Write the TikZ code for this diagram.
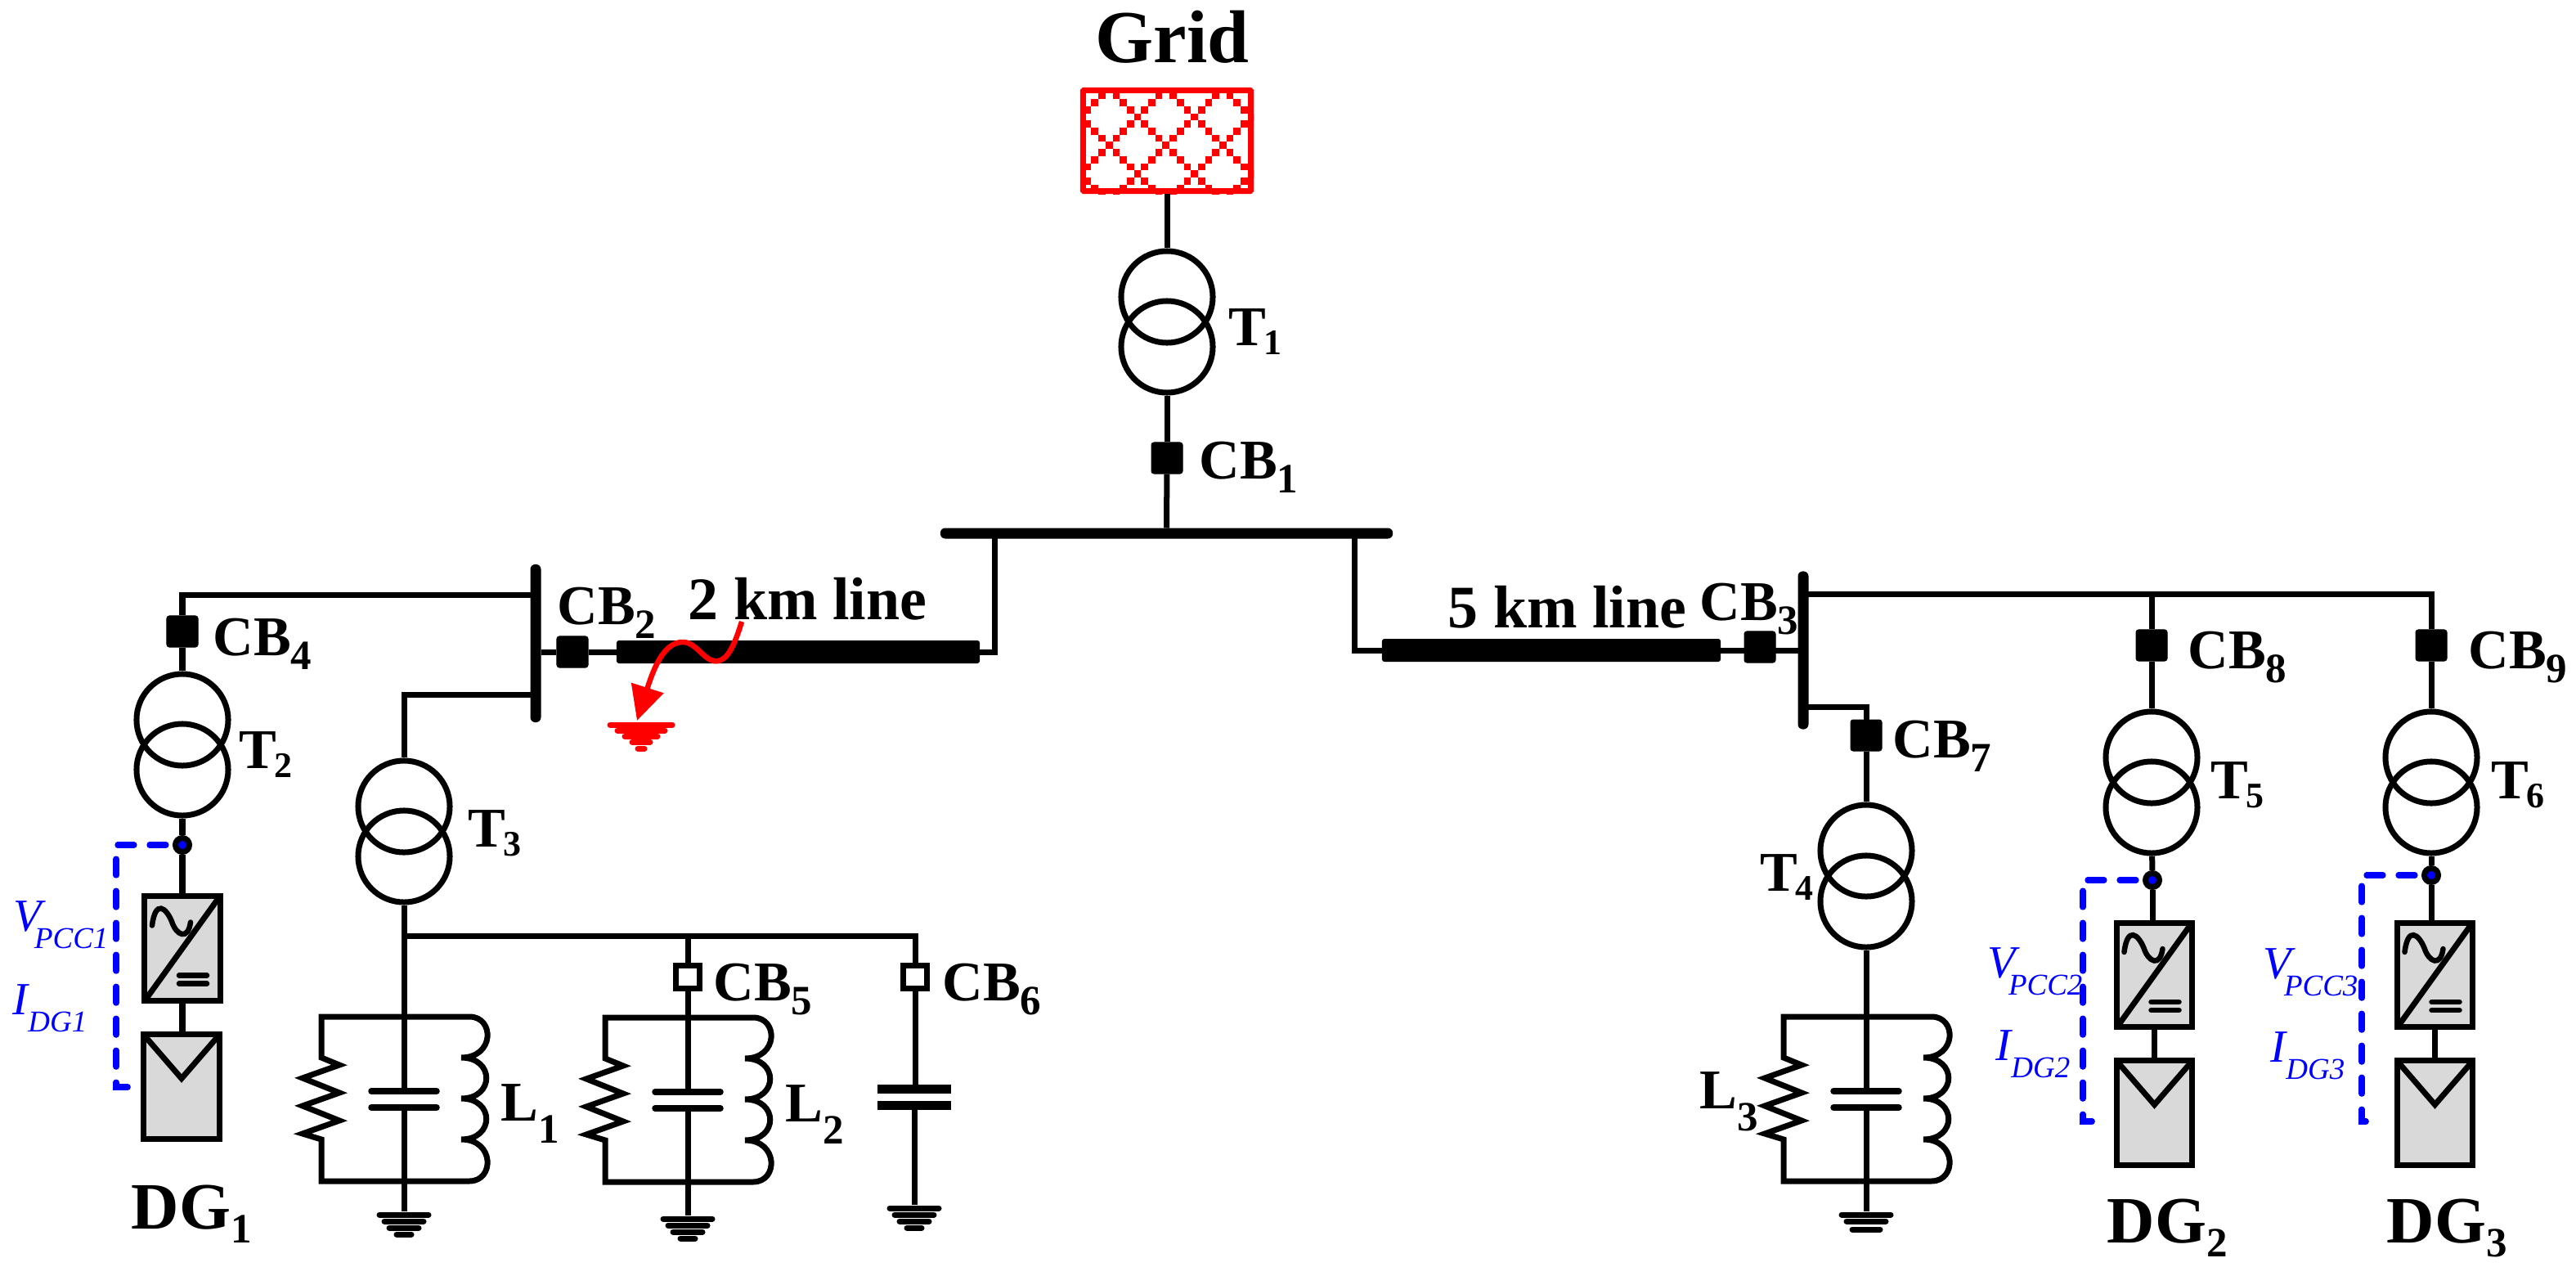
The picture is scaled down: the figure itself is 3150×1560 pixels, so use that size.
\documentclass[tikz,border=0pt]{standalone}
\usepackage{fontspec}
\setmainfont{Liberation Serif}
\usetikzlibrary{arrows.meta, positioning}
\definecolor{gridred}{rgb}{1.0, 0.0, 0.0}
\definecolor{sensblue}{rgb}{0.0, 0.0, 1.0}
\definecolor{dggray}{rgb}{0.85, 0.85, 0.85}
\newcommand{\sublab}[3][0.17cm]{#2\raisebox{-#1}{\fontsize{14.5}{16}\selectfont #3}}
\newcommand{\tlab}[1]{T\kern-0.03cm\raisebox{-0.11cm}{\fontsize{12.5}{15}\selectfont #1}}
\newcommand{\senslab}[3][0cm]{#2\kern#1\raisebox{-0.21cm}{\fontsize{10.5}{12}\selectfont #3}}
\tikzset{wire/.style={color=black, line width=0.07cm}}
\tikzset{plate/.style={color=black, line width=0.075cm, line cap=round}}
\tikzset{earthbar/.style={color=black, line width=0.07cm, line cap=round}}
\tikzset{sense/.style={color=sensblue, line width=0.072cm, line cap=round, dash pattern=on 0.2cm off 0.19cm, shorten <=0.08cm}}
\tikzset{fault/.style={color=gridred, line width=0.065cm, -{Triangle[length=0.42cm, width=0.4cm]}}}
\tikzset{xfmr/.style={draw, circle, line width=0.07cm, minimum size=1.12cm, inner sep=0pt}}
\tikzset{cbclosed/.style={draw, fill=black, rectangle, rounded corners=0.03cm, line width=0.01cm, minimum size=0.38cm, inner sep=0pt}}
\tikzset{cbopen/.style={draw, fill=white, rectangle, line width=0.065cm, minimum width=0.29cm, minimum height=0.28cm, inner sep=0pt}}
\tikzset{busbar/.style={fill=black, rectangle, rounded corners=0.06cm, inner sep=0pt, outer sep=0pt}}
\tikzset{cable/.style={fill=black, rectangle, rounded corners=0.03cm, minimum height=0.28cm, inner sep=0pt, outer sep=0pt}}
\tikzset{thickplate/.style={fill=black, rectangle, minimum width=0.89cm, minimum height=0.11cm, inner sep=0pt, outer sep=0pt}}
\tikzset{dgbox/.style={draw, fill=dggray, rectangle, line width=0.07cm, minimum width=0.92cm, minimum height=1.27cm, inner sep=0pt}}
\tikzset{tap/.style={draw, circle, fill=sensblue, line width=0.07cm, minimum size=0.17cm, inner sep=0pt}}
\tikzset{lab/.style={anchor=base west, inner sep=0pt, font=\fontsize{19.5}{23}\selectfont\bfseries}}
\tikzset{linelab/.style={anchor=base west, inner sep=0pt, font=\fontsize{21}{25}\selectfont\bfseries}}
\tikzset{dglab/.style={anchor=base west, inner sep=0pt, font=\fontsize{23}{27}\selectfont\bfseries}}
\tikzset{senslabel/.style={anchor=base west, inner sep=0pt, text=sensblue, font=\fontsize{16}{19}\selectfont\itshape}}
\tikzset{convsym/.pic={
        \draw[color=black, line width=0.07cm] (-46,64) -- (46,-64);
        \draw[color=black, line width=0.065cm, line cap=round] (-37,-28) .. controls (-33,-60) and (-20,-50) .. (-13,-33) .. controls (-7,-15) and (7,-10) .. (10,-32);
        \draw[plate, line width=0.065cm] (-4,33) -- (30,33);
        \draw[plate, line width=0.065cm] (-4,43) -- (30,43);
    }}
\tikzset{pvsym/.pic={
        \draw[color=black, line width=0.07cm] (-45,-62) -- (0,-10) -- (45,-62);
    }}
\tikzset{rlc/.pic={
        \coordinate (capu) at (0,91);
        \coordinate (capd) at (0,111);
        \draw[wire] (80,0) -- (-101,0) -- (-101,50) -- (-79,59) -- (-124,75) -- (-79,93) -- (-124,109) -- (-79,127) -- (-124,143) -- (-101,150) -- (-101,201) -- (80,201) .. controls (111,201) and (111,150) .. (70,150) .. controls (111,150) and (111,100) .. (70,100) .. controls (111,100) and (111,50) .. (70,50) .. controls (111,50) and (111,0) .. (80,0);
        \draw[plate] (-40,91) -- (40,91);
        \draw[plate] (-40,111) -- (40,111);
    }}
\tikzset{earthfour/.pic={
        \draw[earthbar] (-30,4) -- (30,4);
        \draw[earthbar] (-24,12) -- (24,12);
        \draw[earthbar] (-18,20) -- (18,20);
        \draw[earthbar] (-9,28) -- (9,28);
    }}
\tikzset{earththree/.pic={
        \draw[earthbar] (-30,4) -- (30,4);
        \draw[earthbar] (-24,12) -- (24,12);
        \draw[earthbar] (-17,22) -- (17,22);
    }}
\begin{document}
\begin{tikzpicture}[x=0.01cm, y=-0.01cm]
        \useasboundingbox (0,0) rectangle (3150,1560);

        \begin{scope}
            \clip (1321,107) rectangle (1533,237);
            \foreach \m in {-8,...,17} \foreach \n in {-5,...,11} {
                \pgfmathtruncatemacro{\dsum}{mod(\m+\n+80,8)}
                \pgfmathtruncatemacro{\ddif}{mod(\m-\n+80,8)}
                \ifnum\dsum=0 \fill[gridred] ({1386.65+\m*8.7},{138.65+\n*8.7}) rectangle ++(8.7,8.7);\fi
                \ifnum\ddif=0 \fill[gridred] ({1386.65+\m*8.7},{138.65+\n*8.7}) rectangle ++(8.7,8.7);\fi
            }
        \end{scope}
        \node[draw=gridred, rectangle, line width=0.07cm, rounded corners=0.01cm, minimum width=2.05cm, minimum height=1.23cm, inner sep=0pt] (Grid) at (1427,172) {};
        \node[lab, font=\fontsize{26}{30}\selectfont\bfseries] (LGrid) at (1339,76) {Grid};

        \node[xfmr] (Tau) at (1427,363) {};
        \node[xfmr] (Tal) at (1427,424) {};
        \node[cbclosed] (Cba) at (1427,560) {};
        \node[busbar, minimum width=5.53cm, minimum height=0.13cm] (Ba) at (1426.5,652) {};
        \node[lab] (LTa) at (1502,422) {\tlab{1}};
        \node[lab] (LCba) at (1466,585) {\sublab{CB}{1}};
        \coordinate (Ja) at (1216,652);
        \coordinate (Jb) at (1656,652);

        \draw [wire] (Grid) -- (Tau);
        \draw [wire] (Tal) -- (Cba);
        \draw [wire] (Cba) -- (Ba);

        \node[busbar, minimum width=0.13cm, minimum height=1.93cm] (Bb) at (655,786.5) {};
        \node[cbclosed] (Cbb) at (700,797) {};
        \node[cable, minimum width=4.44cm] (Lna) at (976,797) {};
        \node[lab] (LCbb) at (681,763) {\sublab{CB}{2}};
        \node[linelab] (LLna) at (841,757) {2 km line};

        \draw [wire] (Ja) |- (Lna.east);
        \draw [wire] (Lna.west) -- (Cbb);
        \draw [wire] (Cbb) -- (Bb.east |- Cbb);

        \coordinate (Ff) at (907,760);
        \coordinate (Fg) at (779,881);
        \draw [fault] (Ff) .. controls (895,800) and (885,810) .. (873,808) .. controls (860,806) and (850,784) .. (834,785) .. controls (812,786) and (800,815) .. (Fg);
        \draw [earthbar, color=gridred] (746,886) -- (822,886);
        \draw [earthbar, color=gridred] (755,893) -- (813,893);
        \draw [earthbar, color=gridred] (764,900) -- (804,900);
        \draw [earthbar, color=gridred] (773,907) -- (795,907);
        \draw [earthbar, color=gridred] (780,915) -- (788,915);

        \coordinate (Jc) at (655,727);
        \node[cbclosed] (Cbd) at (223,772) {};
        \node[xfmr] (Tbu) at (223,880) {};
        \node[xfmr] (Tbl) at (223,941) {};
        \node[tap] (Ma) at (223,1033) {};
        \node[dgbox] (Ca) at (223,1159.5) {};
        \node[dgbox] (Pa) at (222,1328.5) {};
        \pic at (Ca) {convsym};
        \pic at (Pa) {pvsym};
        \node[lab] (LCbd) at (260,801) {\sublab{CB}{4}};
        \node[lab] (LTb) at (292,939) {\tlab{2}};
        \node[dglab] (LDa) at (160,1502) {\sublab{DG}{1}};
        \node[senslabel] (LVa) at (16,1138) {\senslab[-0.09cm]{V}{PCC1}};
        \node[senslabel] (LIa) at (15,1240) {\senslab{I}{DG1}};
        \coordinate (Qa) at (142,1329);
        \coordinate (Ea) at (164,1329);

        \draw [wire] (Jc) -| (Cbd);
        \draw [wire] (Cbd) -- (Tbu);
        \draw [wire] (Tbl) -- (Ma);
        \draw [wire] (Ma) -- (Ma |- Ca.north);
        \draw [wire] (Ca) -- (Ca |- Pa.north);
        \draw [sense] (Ma.west) -| (Qa) -- (Ea);

        \coordinate (Jd) at (655,849);
        \coordinate (Je) at (494,1144);
        \node[xfmr] (Tcu) at (494,986) {};
        \node[xfmr] (Tcl) at (494,1047) {};
        \node[cbopen] (Cbe) at (841,1194.5) {};
        \node[cbopen] (Cbf) at (1119,1194.5) {};
        \node[thickplate] (Cfu) at (1118,1331.5) {};
        \node[thickplate] (Cfd) at (1118,1351.5) {};
        \coordinate (Ga) at (494,1481);
        \coordinate (Gb) at (841,1486);
        \coordinate (Gc) at (1118,1473);
        \pic (La) at (494,1243) {rlc};
        \pic (Lb) at (841,1244) {rlc};
        \pic at (Ga) {earthfour};
        \pic at (Gb) {earthfour};
        \pic at (Gc) {earthfour};
        \node[lab] (LTc) at (572,1035) {\tlab{3}};
        \node[lab] (LCbe) at (872,1223) {\sublab{CB}{5}};
        \node[lab] (LCbf) at (1152,1223) {\sublab{CB}{6}};
        \node[lab] (LLa) at (612,1370) {\sublab[0.27cm]{L}{1}};
        \node[lab] (LLb) at (960,1371) {\sublab[0.27cm]{L}{2}};

        \draw [wire] (Jd) -| (Tcu);
        \draw [wire] (Tcl) -- (Lacapu);
        \draw [wire] (Lacapd) -- (Ga);
        \draw [wire] (Je) -| (Cbf);
        \draw [wire] (Cbe |- Je) -- (Cbe);
        \draw [wire] (Cbe) -- (Lbcapu);
        \draw [wire] (Lbcapd) -- (Gb);
        \draw [wire] (Cbf) -- (Cbf |- Cfu.north);
        \draw [wire] (Cfd) -- (Gc);

        \node[busbar, minimum width=0.13cm, minimum height=1.93cm] (Bc) at (2205,795) {};
        \node[cbclosed] (Cbc) at (2152,791) {};
        \node[cable, minimum width=4.14cm] (Lnb) at (1897,795) {};
        \node[lab] (LCbc) at (2078,758) {\sublab{CB}{3}};
        \node[linelab] (LLnb) at (1770,767) {5 km line};

        \draw [wire] (Jb) |- (Lnb.west);
        \draw [wire] (Lnb.east) -- (Bc.west |- Lnb);

        \coordinate (Jf) at (2205,864);
        \node[cbclosed] (Cbg) at (2282,899) {};
        \node[xfmr] (Tdu) at (2282,1040) {};
        \node[xfmr] (Tdl) at (2282,1102) {};
        \coordinate (Gd) at (2282,1481);
        \pic (Lc) at (2282,1243) {rlc};
        \pic at (Gd) {earththree};
        \node[lab] (LCbg) at (2314,926) {\sublab{CB}{7}};
        \node[lab] (LTd) at (2152,1089) {\tlab{4}};
        \node[lab] (LLc) at (2078,1355) {\sublab[0.27cm]{L}{3}};

        \draw [wire] (Jf) -| (Cbg);
        \draw [wire] (Cbg) -- (Tdu);
        \draw [wire] (Tdl) -- (Lccapu);
        \draw [wire] (Lccapd) -- (Gd);

        \coordinate (Jg) at (2205,726);
        \node[cbclosed] (Cbh) at (2631,789) {};
        \node[xfmr] (Teu) at (2631,926) {};
        \node[xfmr] (Tel) at (2631,987) {};
        \node[tap] (Mb) at (2632,1076) {};
        \node[dgbox] (Cb) at (2634.5,1192) {};
        \node[dgbox] (Pb) at (2634.5,1360.5) {};
        \pic at (Cb) {convsym};
        \pic at (Pb) {pvsym};
        \node[lab] (LCbh) at (2675,817) {\sublab{CB}{8}};
        \node[lab] (LTe) at (2703,976) {\tlab{5}};
        \node[dglab] (LDb) at (2576,1519) {\sublab{DG}{2}};
        \node[senslabel] (LVb) at (2430,1195) {\senslab[-0.09cm]{V}{PCC2}};
        \node[senslabel] (LIb) at (2440,1296) {\senslab{I}{DG2}};
        \coordinate (Qb) at (2547,1371);
        \coordinate (Eb) at (2569,1371);

        \node[cbclosed] (Cbi) at (2973,789) {};
        \node[xfmr] (Tfu) at (2973,926) {};
        \node[xfmr] (Tfl) at (2973,987) {};
        \node[tap] (Mc) at (2973,1070) {};
        \node[dgbox] (Cc) at (2977.5,1192) {};
        \node[dgbox] (Pc) at (2977.5,1360.5) {};
        \pic at (Cc) {convsym};
        \pic at (Pc) {pvsym};
        \node[lab] (LCbi) at (3018,817) {\sublab{CB}{9}};
        \node[lab] (LTf) at (3046,976) {\tlab{6}};
        \node[dglab] (LDc) at (2918,1519) {\sublab{DG}{3}};
        \node[senslabel] (LVc) at (2767,1196) {\senslab[-0.09cm]{V}{PCC3}};
        \node[senslabel] (LIc) at (2776,1298) {\senslab{I}{DG3}};
        \coordinate (Qc) at (2888,1371);
        \coordinate (Ec) at (2912,1371);

        \draw [wire] (Jg) -| (Cbi);
        \draw [wire] (Cbh |- Jg) -- (Cbh);
        \draw [wire] (Cbh) -- (Teu);
        \draw [wire] (Tel) -- (Mb);
        \draw [wire] (Mb) -- (Mb |- Cb.north);
        \draw [wire] (Cb) -- (Cb |- Pb.north);
        \draw [wire] (Cbi) -- (Tfu);
        \draw [wire] (Tfl) -- (Mc);
        \draw [wire] (Mc) -- (Mc |- Cc.north);
        \draw [wire] (Cc) -- (Cc |- Pc.north);
        \draw [sense] (Mb.west) -| (Qb) -- (Eb);
        \draw [sense] (Mc.west) -| (Qc) -- (Ec);
    \end{tikzpicture}
\end{document}
